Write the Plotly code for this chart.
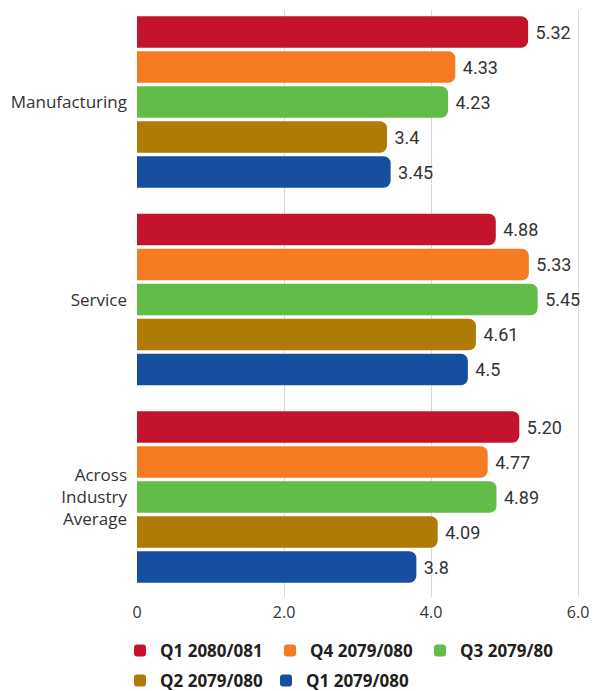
import plotly.graph_objects as go

categories = ["Manufacturing", "Service", "Across<br>Industry<br>Average"]
series_names = ["Q1 2080/081", "Q4 2079/080", "Q3 2079/80", "Q2 2079/080", "Q1 2079/080"]
q1_2080_081 = [5.32, 4.88, 5.20]
q4_2079_080 = [4.33, 5.33, 4.77]
q3_2079_80 = [4.23, 5.45, 4.89]
q2_2079_080 = [3.40, 4.61, 4.09]
q1_2079_080 = [3.45, 4.50, 3.80]
q1_2080_081_lbl = ["5.32", "4.88", "5.20"]
q4_2079_080_lbl = ["4.33", "5.33", "4.77"]
q3_2079_80_lbl = ["4.23", "5.45", "4.89"]
q2_2079_080_lbl = ["3.4", "4.61", "4.09"]
q1_2079_080_lbl = ["3.45", "4.5", "3.8"]
tick_vals = [0, 2, 4, 6]
tick_text = ["0", "2.0", "4.0", "6.0"]

colors = ["#C4142D", "#F57B22", "#61BC48", "#B07A06", "#174FA0"]
values = [q1_2080_081, q4_2079_080, q3_2079_80, q2_2079_080, q1_2079_080]
labels = [q1_2080_081_lbl, q4_2079_080_lbl, q3_2079_80_lbl, q2_2079_080_lbl, q1_2079_080_lbl]
legend_ids = ["legend", "legend", "legend", "legend2", "legend2"]

W, H = 599, 683  # page adds an 8px body margin

fig = go.Figure()
for name, vals, lbls, col, lg in zip(series_names, values, labels, colors, legend_ids):
    fig.add_trace(go.Bar(
        y=categories, x=vals, name=name, orientation="h",
        marker=dict(color=col, line=dict(width=0)),
        text=lbls, texttemplate=" %{text}", textposition="outside",
        textfont=dict(family="Roboto, DejaVu Sans", size=18, color="#333333"),
        cliponaxis=False, legend=lg,
    ))

legend_font = dict(family="Open Sans, DejaVu Sans", size=17, color="#231f20", weight="bold")
fig.update_layout(
    width=W, height=H,
    margin=dict(l=129, r=23, t=2, b=94),
    paper_bgcolor="white", plot_bgcolor="white",
    barmode="group", bargap=0.114, bargroupgap=0.1,
    barcornerradius=7,
    font=dict(family="Open Sans, DejaVu Sans", color="#333333"),
    showlegend=True,
    legend=dict(
        orientation="h", xref="container", yref="container",
        x=112 / W, xanchor="left", y=1 - 643 / H, yanchor="middle",
        font=legend_font, entrywidth=105, itemwidth=30, traceorder="normal",
        bgcolor="rgba(0,0,0,0)",
    ),
    legend2=dict(
        orientation="h", xref="container", yref="container",
        x=112 / W, xanchor="left", y=1 - 673 / H, yanchor="middle",
        font=legend_font, entrywidth=101, itemwidth=30, traceorder="normal",
        bgcolor="rgba(0,0,0,0)",
    ),
)
fig.update_xaxes(
    range=[0, 6.08], tickvals=tick_vals, ticktext=tick_text,
    showgrid=True, gridcolor="#d9d9d9", gridwidth=1, zeroline=False,
    showline=False, ticks="", tickfont=dict(size=16, color="#333333"),
    automargin=False, ticklabelstandoff=4,
)
fig.update_yaxes(
    range=[2.506, -0.466], showgrid=False, ticks="", showline=False,
    tickfont=dict(size=17, color="#333333"), automargin=False, ticklabelstandoff=9,
)
fig.write_html("out.html")
